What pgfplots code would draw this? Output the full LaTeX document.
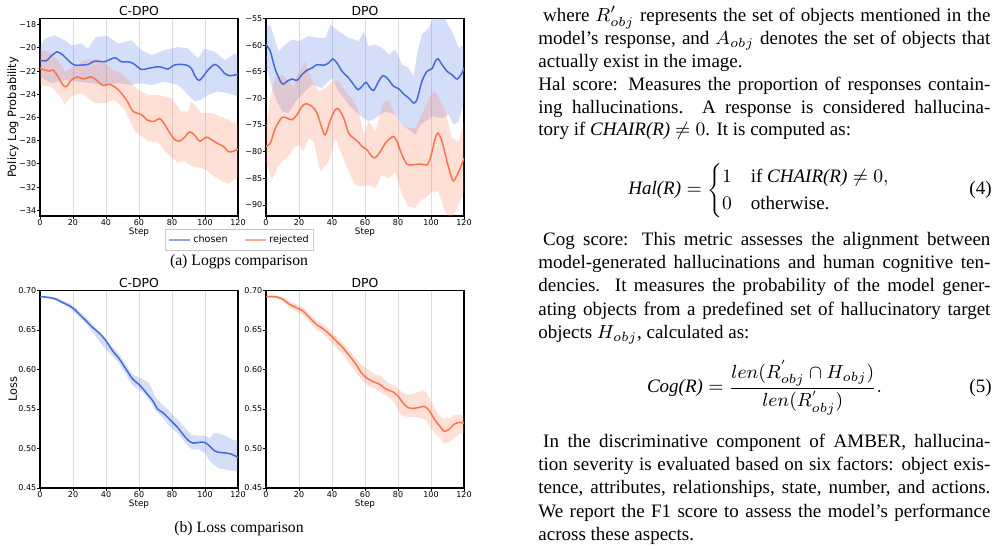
\RequirePackage{fix-cm}
\documentclass[border=0pt]{standalone}
\usepackage{amsmath}
\usepackage[no-math]{fontspec}
\usepackage{pgfplots}
\pgfplotsset{compat=1.18}
\setmainfont{Liberation Serif}
\newfontfamily\dejavu{DejaVu Sans}

\definecolor{chosen}{RGB}{65,105,225}
\definecolor{rejected}{RGB}{255,113,72}

\newcommand\tickf{\dejavu\fontsize{4}{4.5}\selectfont}
\newcommand\titf{\dejavu\fontsize{6.2}{7}\selectfont}
\newcommand\xlabf{\dejavu\fontsize{4.4}{5}\selectfont}
\newcommand\ylabf{\dejavu\fontsize{5.7}{6.5}\selectfont}
\newcommand\legf{\dejavu\fontsize{4.8}{5.5}\selectfont}
\newcommand\capf{\fontsize{7.86}{9}\selectfont}
\newcommand\bodyf{\fontsize{9.5}{11.4}\selectfont}

% one justified line of the right-hand column, and one ragged (last) line
\newcommand\jl[2]{\node[anchor=base west, inner sep=0pt, font=\bodyf] at (269pt,-#1pt) {\makebox[226pt][s]{#2}};}
\newcommand\rl[2]{\node[anchor=base west, inner sep=0pt, font=\bodyf] at (269pt,-#1pt) {#2};}

\pgfplotsset{
  panel/.style={
    scale only axis, width=99pt, height=98.75pt,
    xmin=0, xmax=120,
    xtick={0,20,40,60,80,100,120},
    xticklabels={0,20,40,60,80,100,120},
    tick pos=left, tick align=outside, major tick length=1.65pt,
    xmajorgrids, major grid style={black!13, line width=0.5pt},
    axis line style={line width=0.6pt},
    tick style={line width=0.45pt, black},
    tick label style={font=\tickf},
    xticklabel style={inner sep=0pt, yshift=0pt},
    yticklabel style={inner sep=0pt, xshift=0pt},
    every axis title shift=0pt,
    title style={font=\titf, at={(0.5,1)}, anchor=base, yshift=1.4pt, inner sep=0pt},
    xlabel={Step},
    xlabel style={font=\xlabf, at={(axis description cs:0.5,0)}, anchor=base, yshift=-9.4pt, inner sep=0pt},
    ylabel style={font=\ylabf, at={(axis description cs:-0.137,0.5)}, anchor=center, inner sep=0pt},
  },
  % spread band: upper edge left to right, then lower edge right to left
  spread/.style={draw=none, fill=#1, fill opacity=0.22, forget plot},
  mean/.style={#1, line width=0.75pt, smooth, tension=0.5, forget plot},
}

\begin{document}
\begin{tikzpicture}
\useasboundingbox (0,0) rectangle (499.5pt,-274.5pt);

% ---------------- (a) log-probabilities, C-DPO ----------------
\begin{axis}[panel, at={(20pt,-108pt)}, anchor=south west,
  ymin=-34.49, ymax=-17.46,
  ytick={-34,-32,-30,-28,-26,-24,-22,-20,-18},
  yticklabels={−34,−32,−30,−28,−26,−24,−22,−20,−18},
  title={C-DPO}, ylabel={Policy Log Probability},
  legend columns=2,
  legend image code/.code={\draw[#1] (0pt,0pt) -- (10.5pt,0pt);},
  legend style={at={(1.0076,-0.123)}, anchor=center, draw=black!22,
    line width=0.4pt, font=\legf, fill=white,
    inner xsep=1.2pt, inner ysep=1.5pt,
    nodes={inner sep=1.2pt},
    /tikz/every even column/.append style={column sep=7pt}},
]
\addplot[spread=chosen] table {
0 -19.91
2.8 -19.20
8.9 -18.91
15 -19.34
19 -19.77
25 -19.62
29 -20.05
34 -19.05
41 -18.97
47.3 -19.62
55.4 -19.34
61.4 -20.19
67.5 -20.62
75.6 -20.19
83.6 -19.91
89.7 -20.05
93.7 -20.62
95.8 -20.91
99.8 -20.05
105.9 -20.34
112 -21.05
118 -20.48
120 -20.62
120 -24.18
114 -23.90
108 -23.75
101.8 -24.04
97.8 -24.47
93.7 -24.61
89.7 -24.04
83.6 -23.19
75.6 -22.90
67.5 -23.19
61 -23.04
55 -23.19
47 -23.04
39 -23.19
31 -23.04
23 -22.90
15 -22.76
6.9 -23.04
0 -22.47
};
\addplot[spread=rejected] table {
0 -20.19
4.8 -20.28
10.9 -21.05
15 -22.05
19 -21.76
27.1 -21.05
33.1 -20.91
39.2 -21.33
44.2 -21.90
49.3 -22.19
53.3 -22.76
59.4 -23.61
65.5 -24.04
71.5 -24.04
75.6 -24.18
79.6 -24.32
85.7 -25.46
89.7 -25.46
91.7 -24.61
97.8 -25.61
103.8 -25.61
108.9 -25.89
114 -26.18
120 -26.60
120 -31.16
114 -31.73
107.9 -31.30
103.8 -30.88
99.8 -30.45
91.7 -30.17
87.7 -29.74
83.6 -29.88
79.6 -29.45
75.6 -28.88
71.5 -28.17
65.5 -28.03
57.4 -27.17
51.3 -25.32
45.3 -24.47
39.2 -24.75
33.1 -24.75
25.1 -23.90
19 -24.18
15 -24.89
12.9 -24.32
6.9 -23.33
0 -23.19
};
\addplot[mean=chosen] table {
0 -21.05
3.8 -21.11
6.9 -20.68
10.5 -20.34
13.9 -20.62
18.0 -21.19
21.0 -21.48
25.1 -21.48
29.1 -21.42
32.1 -21.19
35.2 -21.13
39.2 -21.19
45.3 -20.85
49.3 -21.19
52.9 -21.19
56.4 -21.33
61.4 -21.85
65.5 -21.76
71.5 -21.62
74.5 -21.70
77.6 -21.82
80.6 -21.53
83.6 -21.42
88.7 -21.48
91.7 -21.76
94.1 -22.47
96.4 -22.81
98.8 -22.47
101.8 -21.90
105.9 -21.42
108.9 -21.70
111.9 -22.19
114.9 -22.39
120 -22.27
};
\addplot[mean=rejected] table {
0 -21.76
2.8 -21.90
5.9 -21.99
7.9 -21.90
10.9 -22.47
13.9 -23.19
16 -23.33
19 -22.76
22.6 -22.50
26.1 -22.67
31.1 -22.50
34.1 -22.76
38.2 -23.24
42.2 -23.13
46.3 -23.47
49.3 -23.90
52.9 -24.61
56.4 -25.46
61.4 -25.75
65.5 -26.26
69.5 -26.32
72.5 -26.09
75.6 -26.60
78.6 -27.32
81.6 -27.89
84.6 -28.03
87.7 -27.69
90.7 -27.23
93.7 -27.52
96.8 -28.03
100.8 -27.69
103.8 -27.89
107.9 -28.26
110.9 -28.46
114.9 -28.97
120 -28.74
};
\addlegendimage{chosen, opacity=0.6, line width=1pt}
\addlegendentry{chosen}
\addlegendimage{rejected, opacity=0.6, line width=1pt}
\addlegendentry{rejected}
\end{axis}

% ---------------- (a) log-probabilities, DPO ----------------
\begin{axis}[panel, at={(133pt,-108pt)}, anchor=south west,
  ymin=-92.07, ymax=-55,
  ytick={-90,-85,-80,-75,-70,-65,-60,-55},
  yticklabels={−90,−85,−80,−75,−70,−65,−60,−55},
  title={DPO},
]
\addplot[spread=chosen] table {
0 -56.76
2.6 -56.13
5.7 -59.27
7.7 -61.15
11.7 -59.89
15.8 -58.95
19.8 -59.27
25.9 -58.33
31.9 -58.64
36 -58.64
39 -56.13
44 -57.38
50.1 -58.64
56.2 -59.27
59.2 -57.38
62.2 -60.21
66.3 -59.89
70.3 -60.52
74.3 -61.78
78.4 -60.83
82.4 -63.66
86.5 -64.28
89.5 -65.85
91.5 -61.78
94.5 -58.01
98.6 -56.76
101.6 -54.56
106.7 -54.25
112.7 -57.38
116.8 -60.52
120 -59.89
120 -70.56
116.8 -74.32
113.7 -74.95
110.7 -73.07
106.7 -73.70
100.6 -73.38
96.6 -74.32
93.5 -74.95
90.5 -76.83
86.5 -75.89
82.4 -74.95
78.4 -73.07
72.3 -72.44
66.3 -73.70
62.2 -74.32
56.2 -73.07
50.1 -71.19
44 -68.68
40 -66.17
33.9 -68.05
27.9 -67.42
23.8 -68.68
17.8 -70.56
13.7 -72.75
9.7 -72.44
6.7 -70.56
3.6 -68.05
0 -63.66
};
\addplot[spread=rejected] table {
0 -74.95
2.6 -69.93
5.7 -66.17
9.7 -65.54
13.7 -66.79
16.8 -68.05
18.8 -65.54
21.8 -64.28
23.8 -63.03
27.9 -66.79
31.9 -68.68
36 -68.05
40 -66.79
44 -66.79
48.1 -68.68
52.1 -69.93
56.2 -72.44
59.2 -76.83
62.2 -74.32
66.3 -76.20
71.3 -70.56
74.3 -70.56
78.4 -73.07
82.4 -74.95
86.5 -75.58
90.5 -75.58
94.5 -73.07
98.6 -69.93
102.6 -68.68
104.6 -69.93
108.7 -72.44
112.7 -77.46
116.8 -78.09
120 -74.32
120 -87.50
116.8 -90.01
113.7 -91.89
110.7 -92.52
107.7 -90.63
104.6 -87.50
100.6 -87.50
96.6 -88.75
93.5 -89.07
90.5 -90.63
86.5 -90.32
82.4 -88.12
78.4 -83.73
74.3 -84.99
70.3 -84.36
66.3 -86.87
62.2 -86.24
58.2 -86.56
54.1 -86.24
50.1 -83.73
46.1 -80.60
42 -77.46
38 -81.85
32.9 -83.73
28.9 -78.09
25.9 -77.46
22.8 -79.97
19.8 -78.71
16.8 -79.34
12.7 -81.22
9.7 -81.85
6.7 -83.11
3.6 -85.30
0 -81.85
};
\addplot[mean=chosen] table {
0 -59.89
2.6 -61.15
5.7 -64.60
9.7 -67.23
12.7 -66.79
15.8 -66.36
18.8 -66.61
21.8 -65.54
24.8 -64.72
27.9 -64.28
30.9 -63.66
34.9 -63.78
38.0 -63.34
40.4 -62.59
43.0 -63.34
46.1 -64.91
50.1 -66.17
53.1 -67.42
55.8 -68.36
58.2 -67.74
60.6 -66.98
63.2 -68.05
65.3 -68.49
68.3 -66.79
70.7 -65.73
73.3 -66.17
77.4 -67.74
80.4 -68.17
83.4 -69.18
86.5 -69.93
89.5 -70.87
91.5 -70.24
94.5 -66.79
97.6 -64.91
100.6 -64.41
102.6 -63.03
104.2 -62.59
106.7 -63.66
109.7 -64.91
112.7 -65.54
115.8 -66.36
118.8 -65.23
120 -64.28
};
\addplot[mean=rejected] table {
0 -79.03
2.6 -78.40
5.7 -75.58
9.7 -73.57
12.7 -73.70
15.8 -74.01
18.8 -73.07
21.8 -71.50
24.4 -71.00
27.9 -71.50
30.9 -72.75
33.9 -75.58
36.0 -76.83
39.0 -74.01
42.0 -72.13
44.0 -72.00
47.1 -73.70
50.1 -76.52
53.1 -77.46
56.2 -78.27
58.2 -79.03
61.2 -79.65
64.2 -80.91
66.3 -81.10
69.3 -79.97
72.3 -78.40
75.4 -77.46
77.4 -77.15
79.4 -78.09
82.4 -80.60
85.5 -82.35
88.5 -82.48
91.5 -82.35
94.5 -82.35
97.6 -82.48
99.6 -81.22
102.6 -77.46
104.2 -76.52
106.7 -78.09
109.7 -81.85
112.3 -84.67
113.7 -85.49
116.8 -83.73
120 -81.22
};
\end{axis}

% ---------------- (b) loss, C-DPO ----------------
\begin{axis}[panel, at={(20pt,-244pt)}, anchor=south west,
  ymin=0.45, ymax=0.70,
  ytick={0.45,0.5,0.55,0.6,0.65,0.7},
  yticklabels={0.45,0.50,0.55,0.60,0.65,0.70},
  title={C-DPO}, ylabel={Loss},
]
\addplot[spread=chosen] table {
0 0.6932
10 0.6905
18 0.6840
28 0.6660
38 0.6425
48 0.6190
56 0.5940
62 0.5880
66 0.5830
70 0.5650
74 0.5560
78 0.5480
84 0.5350
88 0.5260
92 0.5170
96 0.5165
100 0.5160
103 0.5130
105 0.5190
108 0.5190
112 0.5160
116 0.5120
120 0.5090
120 0.4715
116 0.4720
112 0.4735
108 0.4750
105 0.4800
103 0.4840
100 0.4940
96 0.4990
92 0.4990
88 0.5070
84 0.5180
78 0.5290
74 0.5400
70 0.5480
66 0.5620
62 0.5720
56 0.5800
48 0.6080
38 0.6300
28 0.6580
18 0.6775
10 0.6875
0 0.6915
};
\addplot[mean=chosen] table {
0 0.6924
5.7 0.6911
9.7 0.6890
13.7 0.6848
17.8 0.6806
20.8 0.6764
23.8 0.6701
27.9 0.6616
31.9 0.6532
36 0.6460
40 0.6363
44 0.6237
48.1 0.6132
52.1 0.6005
56.2 0.5879
60.2 0.5807
64.2 0.5710
68.3 0.5605
71.3 0.5499
74.3 0.5457
77.4 0.5394
80.4 0.5330
83.4 0.5267
86.5 0.5183
89.5 0.5111
92.5 0.5069
96.6 0.5078
99.6 0.5078
102.6 0.5035
105.7 0.4972
108.7 0.4951
112.7 0.4943
115.8 0.4930
120 0.4888
};
\end{axis}

% ---------------- (b) loss, DPO ----------------
\begin{axis}[panel, at={(133pt,-244pt)}, anchor=south west,
  ymin=0.45, ymax=0.70,
  ytick={0.45,0.5,0.55,0.6,0.65,0.7},
  yticklabels={0.45,0.50,0.55,0.60,0.65,0.70},
  title={DPO},
]
\addplot[spread=rejected] table {
0 0.6932
6 0.6935
10 0.6915
14 0.6865
18 0.6830
22 0.6790
26 0.6710
30 0.6630
34 0.6580
38 0.6510
42 0.6430
46 0.6350
50 0.6250
54 0.6150
58 0.6050
62 0.6000
66 0.5940
70 0.5910
74 0.5830
78 0.5800
82 0.5720
86 0.5680
90 0.5700
94 0.5730
97 0.5720
100 0.5600
103 0.5480
106 0.5400
108 0.5380
111 0.5380
114 0.5420
117 0.5430
120 0.5420
120 0.5190
117 0.5180
114 0.5130
111 0.5080
108 0.5060
106 0.5120
103 0.5180
100 0.5250
97 0.5360
94 0.5380
90 0.5400
86 0.5400
82 0.5420
78 0.5570
74 0.5650
70 0.5700
66 0.5760
62 0.5790
58 0.5870
54 0.5980
50 0.6090
46 0.6200
42 0.6290
38 0.6380
34 0.6460
30 0.6520
26 0.6610
22 0.6690
18 0.6740
14 0.6790
10 0.6865
6 0.6905
0 0.6915
};
\addplot[mean=rejected] table {
0 0.6924
6.1 0.6920
10.1 0.6890
14.1 0.6827
18.2 0.6785
22.2 0.6743
26.3 0.6659
30.3 0.6574
34.3 0.6519
38.4 0.6448
42.4 0.6363
46.5 0.6279
50.5 0.6174
54.5 0.6068
57.6 0.5963
60.6 0.5900
64.6 0.5849
68.7 0.5815
72.7 0.5752
76.8 0.5718
79.8 0.5668
82.8 0.5583
85.9 0.5520
88.9 0.5508
92.9 0.5520
96 0.5533
99 0.5478
102 0.5373
105.1 0.5288
108.1 0.5217
111.1 0.5246
114.1 0.5309
117.2 0.5330
120 0.5322
};
\end{axis}

% sub-figure captions
\node[anchor=base, inner sep=0pt, font=\capf] at (119.5pt,-132.8pt) {(a) Logps comparison};
\node[anchor=base, inner sep=0pt, font=\capf] at (119.5pt,-266.3pt) {(b) Loss comparison};

% right-hand column of running text
\jl{11}{\hspace{2.4pt}where $R'_{obj}$ represents the set of objects mentioned in the}
\jl{22.4}{model's response, and $A_{obj}$ denotes the set of objects that}
\rl{33.8}{actually exist in the image.}
\jl{45.2}{Hal score: Measures the proportion of responses contain-}
\jl{56.6}{ing hallucinations.\ \ A response is considered hallucina-}
\rl{68}{tory if \textit{CHAIR(R)} $\neq 0$. It is computed as:}

\node[anchor=base west, inner sep=0pt, font=\bodyf] at (314pt,-97.5pt)
  {$\textit{Hal(R)} = \begin{cases} 1 & \text{if \textit{CHAIR(R)}} \neq 0,\\ 0 & \text{otherwise.}\end{cases}$};
\node[anchor=base east, inner sep=0pt, font=\bodyf] at (496pt,-97.5pt) {(4)};

\jl{122.65}{\hspace{2.4pt}Cog score: This metric assesses the alignment between}
\jl{134.3}{model-generated hallucinations and human cognitive ten-}
\jl{145.95}{dencies.\ \ It measures the probability of the model gener-}
\jl{157.6}{ating objects from a predefined set of hallucinatory target}
\rl{169.25}{objects $H_{obj}$, calculated as:}

\node[anchor=base west, inner sep=0pt, font=\bodyf] at (323.3pt,-196.5pt)
  {$\textit{Cog(R)} = \dfrac{len(R^{'}_{obj}\cap H_{obj})}{len(R^{'}_{obj})}.$};
\node[anchor=base east, inner sep=0pt, font=\bodyf] at (496pt,-196.5pt) {(5)};

\jl{223.75}{\hspace{2.4pt}In the discriminative component of AMBER, hallucina-}
\jl{235.35}{tion severity is evaluated based on six factors: object exis-}
\jl{246.95}{tence, attributes, relationships, state, number, and actions.}
\jl{258.55}{We report the F1 score to assess the model's performance}
\rl{270.15}{across these aspects.}
\end{tikzpicture}
\end{document}
